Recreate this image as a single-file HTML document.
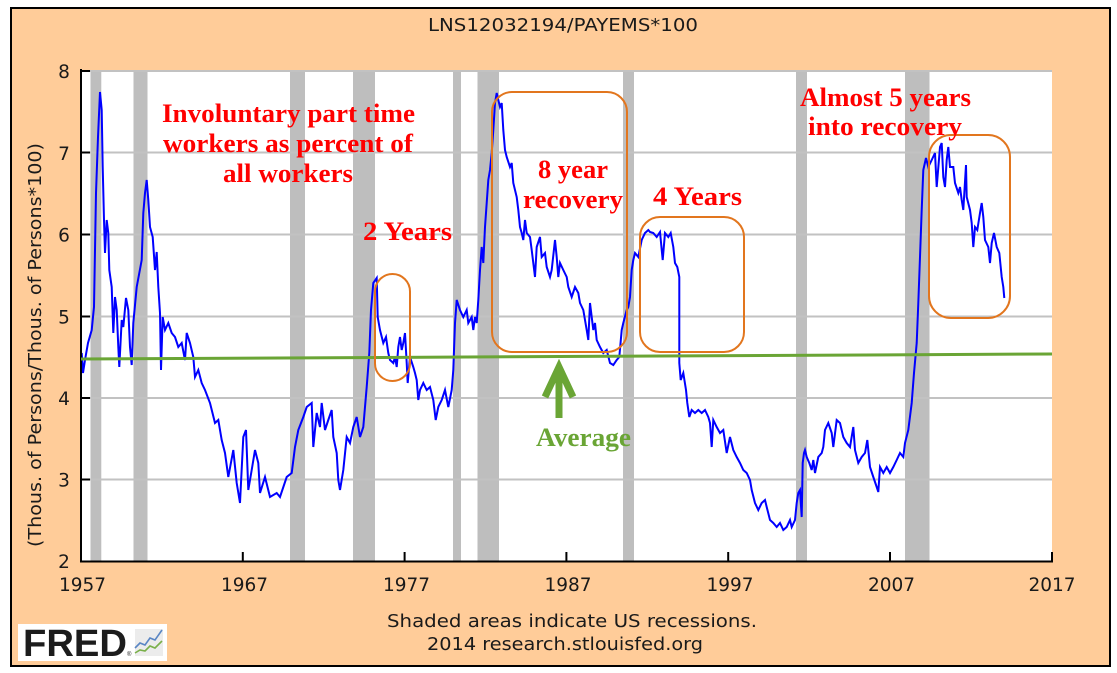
<!DOCTYPE html>
<html>
<head>
<meta charset="utf-8">
<style>
html,body{margin:0;padding:0;background:#fff;}
svg{display:block;}
</style>
</head>
<body>
<svg width="1117" height="673" viewBox="0 0 1117 673" xmlns="http://www.w3.org/2000/svg">
  <rect x="0" y="0" width="1117" height="673" fill="#ffffff"/>
  <rect x="11" y="8" width="1099" height="658" fill="#FFCC99" stroke="#000" stroke-width="2"/>

  <!-- title -->
  <text x="563" y="31" font-family="DejaVu Sans, Liberation Sans, sans-serif" font-size="18" fill="#1a1a1a" text-anchor="middle" textLength="270" lengthAdjust="spacingAndGlyphs">LNS12032194/PAYEMS*100</text>

  <!-- plot area -->
  <rect x="81" y="70" width="971" height="491" fill="#ffffff"/>

  <!-- recession bands -->
  <g fill="#BEBEBE">
    <rect x="90.5" y="70" width="10.8" height="491"/>
    <rect x="133.5" y="70" width="14" height="491"/>
    <rect x="290" y="70" width="15" height="491"/>
    <rect x="353" y="70" width="22" height="491"/>
    <rect x="453" y="70" width="8" height="491"/>
    <rect x="477.5" y="70" width="21.5" height="491"/>
    <rect x="623" y="70" width="11" height="491"/>
    <rect x="796" y="70" width="11" height="491"/>
    <rect x="905" y="70" width="24.5" height="491"/>
  </g>

  <!-- gridlines -->
  <g stroke="#C2C2C2" stroke-width="2">
    <line x1="81" y1="71" x2="1052" y2="71"/>
    <line x1="81" y1="152.5" x2="1052" y2="152.5"/>
    <line x1="81" y1="234.5" x2="1052" y2="234.5"/>
    <line x1="81" y1="316.5" x2="1052" y2="316.5"/>
    <line x1="81" y1="398" x2="1052" y2="398"/>
    <line x1="81" y1="479.5" x2="1052" y2="479.5"/>
  </g>

  <!-- data line -->
  <polyline fill="none" stroke="#0000FF" stroke-width="2" stroke-linejoin="miter" points="
81.7,353 83,373 85,360 88,343 91.7,330 94,307 96,193 98,137 100,92 101.7,110 102.7,167 104,220 105,253 106.7,220 108.3,233 109.3,270 111.7,287 113.3,333 115,297 116.7,310 118.3,347 119.3,367 121.7,320 123.3,327 126,298 128.3,310 130,347 131.7,365 133.3,323 136.7,287 139.3,273 141.7,260 143.3,213 145,193 146.7,180 148.3,200 150,227 152.7,237 155,270 156.7,252 158.3,287 160,313 161,370 162.7,317 165,330 168.3,323 171.7,333 175,337 178.3,347 181.7,343 185,360 186.7,333 190,343 193.3,357 195,377 198.3,370 201.7,383 205,390 210,403 215,423 218.3,420 221.7,440 225,453 228.3,477 233.3,450 236.7,483 240,503 243.3,437 246,430 248.3,490 251.7,470 255,450 258.3,463 260,493 265,477 270,497 276.7,493 280,497
286.7,477 291.7,473 295,447 298.3,430 303.3,417 306.7,407 311.7,403 313.3,447 316.7,413 320,427 321.7,403 325,430 328.3,420 331.7,410 333.3,437 336.7,453 338.3,480 340,490 343.3,470 346.7,437 350,443 353.3,427 356.7,417 360,437 363.3,427 366.7,387 369.3,353 371,310 373.3,283 376.7,278 377.7,317 380,330 383.3,343 386,337 388.3,353 390,360 393.3,363 395,357 396.7,367 398.3,347 400,337 401.7,350 403.3,343 405,333 406.7,363 407.7,383 410,357 413.3,367 415,373 416.7,380 418.3,400 420,390 423.3,383 426.7,390 430,387 433.3,400 435.7,420 438.3,407 441.7,400 445,390 448.3,407 451.7,390 453.3,370 455,323 456.7,300
460,310 463.3,317 466.7,310 468.3,323 471.7,317 473.3,330 475,317 476.7,323 478.3,300 480,270 481.7,247 483.3,263 485,227 486.7,203 488.3,180 490,170 491.7,153 493.3,130 495,103 496.7,93 498.3,100 500,107 501.7,103 503.3,130 505,150 506.7,157 510,167 511.7,163 513.3,183 516.7,197 518.3,210 520,227 521.7,233 523.3,240 525,220 526.7,233 530,237 531.7,250 533.3,263 535,277 536.7,247 540,237 541.7,257 545,253 546.7,267 550,277 551.7,270 555,240 556.7,257 558.3,277 560,263 563.3,270 566.7,277 568.3,287 571.7,297 575,287 578.3,293 580,303 583.3,310 586.7,330 588.3,340 590,303 593.3,330 595,323 596.7,340 600,347 603.3,353 606.7,350 610,363 613.3,365 616.7,360 619.3,357 621.7,330 623.3,323 626.7,310 628.3,307 630,297 631.7,270 633.3,260 635,253 638.3,257 641.7,240 645,233 648.3,230 650,232 653.3,233 656.7,237 660,232
662.7,260 665,233 668.3,237 670.7,233 673.3,247 675,263 677.3,267 679.3,277 679.3,363 680.7,380 683.3,373 686,390 687.3,403 689.3,417 691.7,410 695,413 698.3,410 701.7,413 705,410 708.3,417 710,423 711.7,447 713.3,420 716.7,427 720,433 723.3,430 726.7,453 730,437 733.3,450 736.7,457 740,463 743.3,470 746.7,473 750,480 751.7,490 755,503 758.3,510 761.7,503 765,500 766.7,507 770,520 773.3,523 776.7,527 780,523 783.3,530 786.7,527 790,520 791.7,527 795,520 796.7,503 798.3,493 800,490 801.7,517 802.7,463 804,453 805,450 806.7,457 809.3,463 811.7,470 813.3,460 815,473 818.3,457 821.7,453 823.3,447 825,430 828.3,423 831.7,433 833.3,447 836.7,420 840,423
843.3,437 846.7,443 850,447 853.3,427 855,450 858.3,463 861.7,457 865,453 867.3,440 870,467 873.3,477 876.7,487 878.3,492 880,467 883.3,473 886.7,467 890,473 893.3,467 896.7,460 900,453 903.3,457 905,443 908.3,430 911.7,403 914,373 916.7,343 918.3,303 920,257 921.7,210 923.3,170 926,158 928.3,167 931.7,160 935,153 936.7,187 940,147 941.7,143 943.3,177 945,187 946.7,160 948.3,147 950,167 953.3,167 955,183 958.3,193 960,187 961.7,200 963.3,210 966,165 966.7,197 970,210 971.7,223 973.3,247 975,227 977.3,230 980,213 981.7,203 983.3,217 985,240 988.3,247 990,263 991.7,243 994,233 996.7,247 999.3,253 1001.7,277 1003.3,287 1004.3,298"/>

  <!-- axes -->
  <g stroke="#000" stroke-width="2">
    <line x1="81" y1="69" x2="81" y2="562"/>
    <line x1="80" y1="561.5" x2="1053" y2="561.5"/>
    <line x1="81" y1="71" x2="90" y2="71"/>
    <line x1="81" y1="152.5" x2="90" y2="152.5"/>
    <line x1="81" y1="234.5" x2="90" y2="234.5"/>
    <line x1="81" y1="316.5" x2="90" y2="316.5"/>
    <line x1="81" y1="398" x2="90" y2="398"/>
    <line x1="81" y1="479.5" x2="90" y2="479.5"/>
    <line x1="242.8" y1="552" x2="242.8" y2="561"/>
    <line x1="404.6" y1="552" x2="404.6" y2="561"/>
    <line x1="566.4" y1="552" x2="566.4" y2="561"/>
    <line x1="728.2" y1="552" x2="728.2" y2="561"/>
    <line x1="890" y1="552" x2="890" y2="561"/>
    <line x1="1052" y1="552" x2="1052" y2="561"/>
  </g>

  <!-- y tick labels -->
  <g font-family="DejaVu Sans, Liberation Sans, sans-serif" font-size="18.5" fill="#1a1a1a" text-anchor="middle">
    <text x="64" y="78">8</text>
    <text x="64" y="160">7</text>
    <text x="64" y="241.5">6</text>
    <text x="64" y="323.5">5</text>
    <text x="64" y="405">4</text>
    <text x="64" y="486.5">3</text>
    <text x="64" y="568">2</text>
  </g>

  <!-- x tick labels -->
  <g font-family="DejaVu Sans, Liberation Sans, sans-serif" font-size="18.5" fill="#1a1a1a" text-anchor="middle">
    <text x="82.5" y="591">1957</text>
    <text x="244.5" y="591">1967</text>
    <text x="406.5" y="591">1977</text>
    <text x="568" y="591">1987</text>
    <text x="730" y="591">1997</text>
    <text x="891.5" y="591">2007</text>
    <text x="1052" y="591">2017</text>
  </g>

  <!-- y axis title -->
  <text transform="translate(41,345) rotate(-90)" font-family="DejaVu Sans, Liberation Sans, sans-serif" font-size="17.5" fill="#1a1a1a" text-anchor="middle" textLength="404" lengthAdjust="spacingAndGlyphs">(Thous. of Persons/Thous. of Persons*100)</text>

  <!-- footer -->
  <text x="572" y="627" font-family="DejaVu Sans, Liberation Sans, sans-serif" font-size="17.5" fill="#1a1a1a" text-anchor="middle" textLength="370" lengthAdjust="spacingAndGlyphs">Shaded areas indicate US recessions.</text>
  <text x="565" y="650" font-family="DejaVu Sans, Liberation Sans, sans-serif" font-size="17.5" fill="#1a1a1a" text-anchor="middle" textLength="276" lengthAdjust="spacingAndGlyphs">2014 research.stlouisfed.org</text>

  <!-- FRED logo -->
  <rect x="18" y="624" width="149" height="37" fill="#ffffff"/>
  <text x="23" y="656" font-family="Liberation Sans, DejaVu Sans, sans-serif" font-weight="bold" font-size="38" fill="#1c1c1c" textLength="104" lengthAdjust="spacingAndGlyphs">FRED</text>
  <text x="127" y="656" font-family="Liberation Sans, sans-serif" font-size="6" fill="#1c1c1c">®</text>
  <rect x="135" y="629" width="28" height="27" fill="#ececec"/>
  <polyline points="135,648 140,643 145,645 150,638 155,640 162,630" fill="none" stroke="#5a86c4" stroke-width="1.6"/>
  <polyline points="135,653 140,650 145,651 150,646 155,648 162,641" fill="none" stroke="#7ab04a" stroke-width="1.6"/>

  <!-- average line -->
  <line x1="81" y1="359" x2="1052" y2="354" stroke="#6AA535" stroke-width="3"/>

  <!-- orange highlight shapes -->
  <g fill="none" stroke="#E2761E" stroke-width="2">
    <rect x="375" y="274" width="35" height="107" rx="17.5" ry="17.5"/>
    <rect x="492" y="92" width="135" height="260" rx="20" ry="20"/>
    <rect x="640" y="217" width="104" height="135" rx="20" ry="20"/>
    <rect x="929" y="135" width="81" height="183" rx="22" ry="22"/>
  </g>

  <!-- arrow -->
  <g stroke="#6AA535" stroke-width="7" fill="none">
    <line x1="559" y1="418" x2="559" y2="370"/>
    <polyline points="545,397 559,367 573,397" stroke-linejoin="miter"/>
  </g>

  <!-- annotations -->
  <g font-family="Liberation Serif, DejaVu Serif, serif" font-weight="bold" font-size="26" fill="#FF0000" lengthAdjust="spacingAndGlyphs">
    <text x="162" y="122" textLength="253" lengthAdjust="spacingAndGlyphs">Involuntary part time</text>
    <text x="163" y="152" textLength="250" lengthAdjust="spacingAndGlyphs">workers as percent of</text>
    <text x="223" y="182" textLength="130" lengthAdjust="spacingAndGlyphs">all workers</text>
    <text x="363" y="240" textLength="89" lengthAdjust="spacingAndGlyphs">2 Years</text>
    <text x="538" y="178" textLength="70" lengthAdjust="spacingAndGlyphs">8 year</text>
    <text x="523" y="208" textLength="100" lengthAdjust="spacingAndGlyphs">recovery</text>
    <text x="653" y="205" textLength="89" lengthAdjust="spacingAndGlyphs">4 Years</text>
    <text x="800" y="106" textLength="171" lengthAdjust="spacingAndGlyphs">Almost 5 years</text>
    <text x="808" y="135" textLength="154" lengthAdjust="spacingAndGlyphs">into recovery</text>
  </g>
  <text x="536" y="446" font-family="Liberation Serif, DejaVu Serif, serif" font-weight="bold" font-size="26" fill="#6AA535" textLength="95" lengthAdjust="spacingAndGlyphs">Average</text>
</svg>
</body>
</html>
